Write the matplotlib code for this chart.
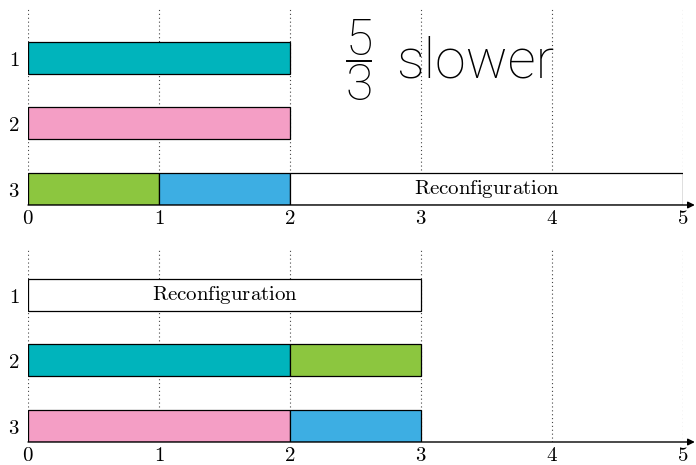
import matplotlib
matplotlib.use("Agg")
import matplotlib.pyplot as plt
from matplotlib.patches import Rectangle

plt.rcParams['mathtext.fontset'] = 'cm'

# ---- data ----
rows = [1, 2, 3]
x_ticks = [0, 1, 2, 3, 4, 5]

top_row = [1, 2, 3, 3, 3]
top_start = [0, 0, 0, 1, 2]
top_end = [2, 2, 1, 2, 5]
top_color = ['#00b4bc', '#f49ec5', '#8cc63f', '#3daee3', '#ffffff']
top_label = ['', '', '', '', 'Reconfiguration']

bot_row = [1, 2, 2, 3, 3]
bot_start = [0, 0, 2, 0, 2]
bot_end = [3, 2, 3, 2, 3]
bot_color = ['#ffffff', '#00b4bc', '#8cc63f', '#f49ec5', '#3daee3']
bot_label = ['Reconfiguration', '', '', '', '']

annotation_num = '5'
annotation_den = '3'
annotation_word = 'slower'

W, H = 696, 465
fig = plt.figure(figsize=(W / 100, H / 100), dpi=100)


def px_axes(left, top, right, bottom):
    return fig.add_axes([left / W, 1 - bottom / H, (right - left) / W, (bottom - top) / H])


def draw_panel(ax, row, start, end, color, label, ytop):
    ax.set_xlim(0, 5)
    ax.set_ylim(3.25, ytop)
    for s in ax.spines.values():
        s.set_visible(False)
    for x in x_ticks:
        ax.axvline(x, color='#444444', lw=0.8, ls=(0, (1, 2.5)), zorder=0)
    h = 0.49
    for r, s, e, c, l in zip(row, start, end, color, label):
        ax.add_patch(Rectangle((s, r - h / 2), e - s, h, facecolor=c,
                               edgecolor='black', lw=0.9, zorder=2))
        if l:
            ax.text((s + e) / 2, r, r'$\mathrm{' + l + '}$', ha='center', va='center',
                    fontsize=15, zorder=3)
    ax.annotate('', xy=(5.09, 3.25), xytext=(0, 3.25),
                arrowprops=dict(arrowstyle='-|>', color='black', lw=1.0,
                                mutation_scale=10, shrinkA=0, shrinkB=0),
                annotation_clip=False, zorder=4)
    ax.set_xticks(x_ticks)
    ax.set_xticklabels([f'${t}$' for t in x_ticks], fontsize=15)
    ax.set_yticks(rows)
    ax.set_yticklabels([f'${r}$' for r in rows], fontsize=15)
    ax.tick_params(axis='both', length=0)
    ax.tick_params(axis='x', pad=2)
    ax.tick_params(axis='y', pad=6)


ax1 = px_axes(28, 8, 683, 205)
draw_panel(ax1, top_row, top_start, top_end, top_color, top_label, 0.24)

ax2 = px_axes(28, 248, 683, 442)
draw_panel(ax2, bot_row, bot_start, bot_end, bot_color, bot_label, 0.28)

# big annotation
fam = ['Roboto', 'DejaVu Sans']
fig.text(359 / W, 1 - 55 / H, annotation_num, ha='center', va='baseline', fontsize=36,
         family=fam, fontweight='light')
fig.text(359 / W, 1 - 100 / H, annotation_den, ha='center', va='baseline', fontsize=36,
         family=fam, fontweight='light')
fig.add_artist(plt.Line2D([347 / W, 371 / W], [1 - 61 / H, 1 - 61 / H], color='black', lw=1.4))
fig.text(396 / W, 1 - 78 / H, annotation_word, ha='left', va='baseline', fontsize=40,
         family=fam, fontweight='light')

fig.savefig('out.png', dpi=100)
